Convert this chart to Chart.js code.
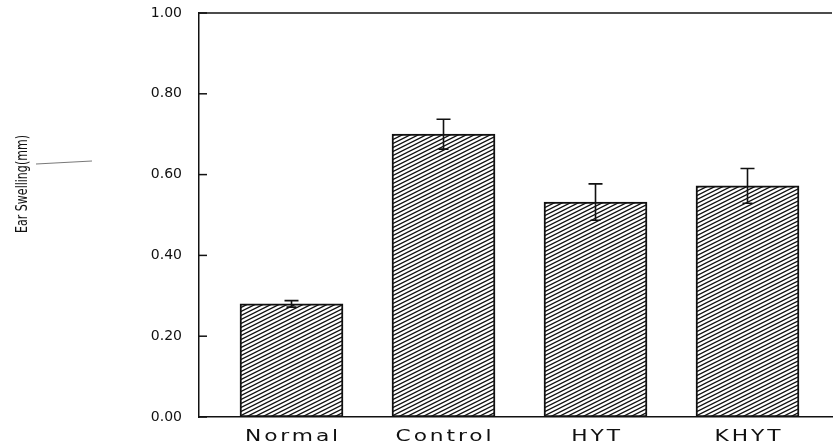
<!DOCTYPE html>
<html>
<head>
<meta charset="utf-8">
<script src="https://cdn.jsdelivr.net/npm/chart.js@4"></script>
<style>
  html, body { margin: 0; padding: 0; background: #fff; }
  #wrap { width: 834px; height: 446px; }
</style>
</head>
<body>
<div id="wrap"><canvas id="swellChart"></canvas></div>
<script>
// data
const categories = ['Normal', 'Control', 'HYT', 'KHYT'];
const swelling = [0.28, 0.70, 0.532, 0.572];
const swellingErr = [0.008, 0.037, 0.045, 0.043];
const yTicks = [0, 0.2, 0.4, 0.6, 0.8, 1.0];
const yTitle = 'Ear Swelling(mm)';

// diagonal hatch like the printed figure
function hatchPattern() {
    const c = document.createElement('canvas');
    c.width = 16;
    c.height = 8;
    const g = c.getContext('2d');
    g.fillStyle = '#fff';
    g.fillRect(0, 0, 16, 8);
    g.strokeStyle = '#111';
    g.lineWidth = 1.3;
    // lines of slope 1/2, repeating every 4px vertically
    for (let k = -3; k <= 5; k++) {
        g.beginPath();
        g.moveTo(-4, k * 4 + 2);
        g.lineTo(20, k * 4 - 10);
        g.stroke();
    }
    return g.createPattern(c, 'repeat');
}

const decor = {
    id: 'decor',
    afterDraw(chart) {
        const ctx = chart.ctx;
        const area = chart.chartArea;
        const x = chart.scales.x, y = chart.scales.y;
        ctx.save();
        ctx.strokeStyle = '#111';
        ctx.lineWidth = 1.5;

        // top frame line
        ctx.beginPath();
        ctx.moveTo(area.left, area.top);
        ctx.lineTo(area.right, area.top);
        ctx.stroke();

        // inward tick marks
        yTicks.forEach(v => {
            const py = y.getPixelForValue(v);
            ctx.beginPath();
            ctx.moveTo(area.left, py);
            ctx.lineTo(area.left + 8, py);
            ctx.stroke();
        });

        // error bars
        ctx.lineWidth = 1.6;
        swelling.forEach((m, i) => {
            const px = x.getPixelForValue(i + 1);
            const hi = y.getPixelForValue(m + swellingErr[i]);
            const lo = y.getPixelForValue(m - swellingErr[i]);
            ctx.beginPath();
            ctx.moveTo(px, hi);
            ctx.lineTo(px, lo);
            ctx.moveTo(px - 7, hi);
            ctx.lineTo(px + 7, hi);
            ctx.moveTo(px - 5, lo);
            ctx.lineTo(px + 5, lo);
            ctx.stroke();
        });

        // category labels, wide lettering
        ctx.fillStyle = '#111';
        ctx.font = '15px "DejaVu Sans"';
        ctx.textAlign = 'center';
        ctx.textBaseline = 'middle';
        ctx.letterSpacing = '2px';
        categories.forEach((c, i) => {
            const px = x.getPixelForValue(i + 1);
            ctx.save();
            ctx.translate(px + 1.5, 437);
            ctx.scale(1.45, 1);
            ctx.fillText(c, 0, 0);
            ctx.restore();
        });
        ctx.letterSpacing = '0px';

        // rotated axis title
        ctx.save();
        ctx.translate(23, 184);
        ctx.rotate(-Math.PI / 2);
        ctx.font = '15px "DejaVu Sans Condensed", "DejaVu Sans"';
        ctx.scale(0.82, 1);
        ctx.fillText(yTitle, 0, 0);
        ctx.restore();

        // small leader stroke next to the title
        ctx.strokeStyle = '#555';
        ctx.lineWidth = 0.8;
        ctx.beginPath();
        ctx.moveTo(36, 164);
        ctx.lineTo(92, 161);
        ctx.stroke();
        ctx.restore();
    }
};

document.addEventListener('DOMContentLoaded', function() {
    const ctx = document.getElementById('swellChart').getContext('2d');

    new Chart(ctx, {
        type: 'bar',
        data: {
            datasets: [{
                label: yTitle,
                data: categories.map((c, i) => ({ x: i + 1, y: swelling[i] })),
                backgroundColor: hatchPattern(),
                borderColor: '#111',
                borderWidth: 2,
                borderSkipped: false,
                barThickness: 103
            }]
        },
        options: {
            responsive: true,
            maintainAspectRatio: false,
            animation: false,
            layout: { padding: { top: 13, right: 2, left: 0, bottom: 0 } },
            plugins: {
                legend: { display: false },
                tooltip: { enabled: false }
            },
            scales: {
                x: {
                    type: 'linear',
                    offset: false,
                    min: 0.3914,
                    max: 4.5559,
                    grid: { display: false },
                    border: { display: true, color: '#111', width: 1.5 },
                    ticks: { display: false },
                    afterFit: s => { s.height = 29; s.paddingLeft = 0; s.paddingRight = 0; }
                },
                y: {
                    min: 0,
                    max: 1,
                    afterBuildTicks: s => { s.ticks = yTicks.map(v => ({ value: v })); },
                    grid: { display: false, drawTicks: false },
                    border: { display: true, color: '#111', width: 1.5 },
                    ticks: {
                        padding: 17,
                        color: '#111',
                        font: { family: 'DejaVu Sans', size: 14 },
                        callback: v => v.toFixed(2)
                    },
                    afterFit: s => { s.width = 199; s.paddingTop = 0; s.paddingBottom = 0; }
                }
            }
        },
        plugins: [decor]
    });
});
</script>
</body>
</html>
